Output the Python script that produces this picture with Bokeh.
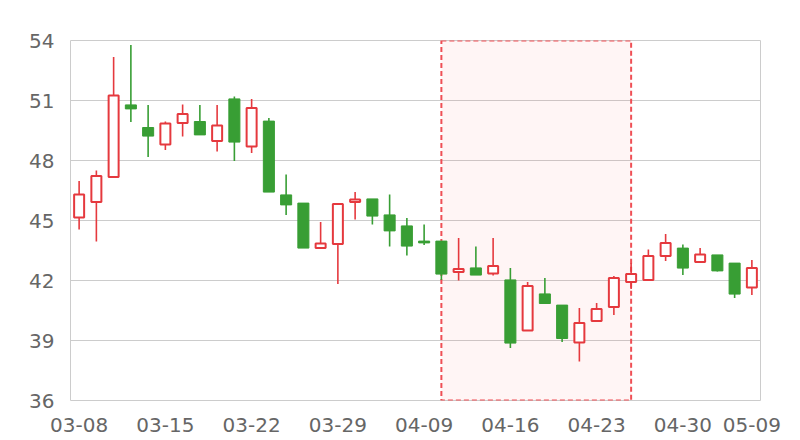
from bokeh.plotting import figure
from bokeh.models import FixedTicker
from bokeh.embed import file_html
from bokeh.resources import INLINE

dates = ["03-08", "03-11", "03-12", "03-13", "03-14", "03-15", "03-18", "03-19",
         "03-20", "03-21", "03-22", "03-25", "03-26", "03-27", "03-28", "03-29",
         "04-01", "04-02", "04-03", "04-08", "04-09", "04-10", "04-11", "04-12",
         "04-15", "04-16", "04-17", "04-18", "04-19", "04-22", "04-23", "04-24",
         "04-25", "04-26", "04-29", "04-30", "05-06", "05-07", "05-08", "05-09"]
open_ = [45.15, 45.92, 47.17, 50.78, 49.65, 48.80, 49.88, 49.95, 48.98, 51.08,
         48.70, 49.97, 46.28, 45.87, 43.62, 43.83, 45.92, 46.08, 45.28, 44.73,
         43.97, 43.97, 42.43, 42.63, 42.35, 42.03, 39.50, 41.33, 40.77, 38.90,
         39.97, 40.68, 41.92, 42.02, 43.22, 43.62, 42.93, 43.28, 42.87, 41.65]
close = [46.30, 47.22, 51.25, 50.58, 49.22, 49.85, 50.32, 49.28, 49.75, 48.92,
         50.62, 46.42, 45.78, 43.62, 43.85, 45.82, 46.05, 45.22, 44.48, 43.72,
         43.88, 42.32, 42.58, 42.27, 42.72, 38.87, 41.72, 40.85, 39.10, 39.87,
         40.57, 42.12, 42.32, 43.23, 43.87, 42.62, 43.30, 42.48, 41.32, 42.63]
low = [44.55, 43.95, 47.15, 49.92, 48.17, 48.53, 49.20, 49.28, 48.45, 47.98,
       48.38, 46.42, 45.28, 43.62, 43.62, 41.83, 45.05, 44.80, 43.70, 43.25,
       43.78, 42.03, 42.00, 42.27, 42.25, 38.63, 39.50, 40.85, 38.93, 37.95,
       39.93, 40.28, 41.58, 42.02, 42.97, 42.28, 42.88, 42.45, 41.13, 41.28]
high = [46.97, 47.50, 53.17, 53.78, 50.78, 49.95, 50.80, 50.78, 50.78, 51.20,
        51.08, 50.13, 47.30, 45.87, 44.92, 45.88, 46.42, 46.08, 46.30, 45.13,
        44.80, 43.97, 44.12, 43.70, 44.13, 42.62, 41.92, 42.12, 40.77, 40.62,
        40.88, 42.22, 42.88, 43.55, 44.33, 43.80, 43.62, 43.28, 42.87, 43.02]
y_ticks = [36, 39, 42, 45, 48, 51, 54]
label_idx = [0, 5, 10, 15, 20, 25, 30, 35, 39]
area_start, area_end = "04-10", "04-25"

UP = "#e5393e"
DOWN = "#389e34"

n = len(dates)
xs = list(range(n))
up_i = [i for i in xs if close[i] >= open_[i]]
dn_i = [i for i in xs if close[i] < open_[i]]

p = figure(width=800, height=440, x_range=(-0.5, n - 0.5), y_range=(y_ticks[0], y_ticks[-1]),
           output_backend="svg", toolbar_location=None,
           min_border_left=70, min_border_right=40, min_border_top=40, min_border_bottom=40)
p.background_fill_color = "white"
p.border_fill_color = "white"
p.outline_line_color = "#cccccc"
p.outline_line_width = 1

# highlighted area
p.quad(left=[dates.index(area_start)], right=[dates.index(area_end)],
       bottom=[y_ticks[0]], top=[y_ticks[-1]],
       fill_color="red", fill_alpha=0.04, line_color="#ef4f55",
       line_width=2, line_dash="5 3")

# wicks
p.segment(x0=[xs[i] for i in up_i], y0=[low[i] for i in up_i],
          x1=[xs[i] for i in up_i], y1=[high[i] for i in up_i],
          line_color=UP, line_width=1.6)
p.segment(x0=[xs[i] for i in dn_i], y0=[low[i] for i in dn_i],
          x1=[xs[i] for i in dn_i], y1=[high[i] for i in dn_i],
          line_color=DOWN, line_width=1.6)

# bodies
p.vbar(x=[xs[i] for i in up_i], width=0.58,
       bottom=[open_[i] for i in up_i], top=[close[i] for i in up_i],
       fill_color="white", line_color=UP, line_width=2)
p.vbar(x=[xs[i] for i in dn_i], width=0.64,
       bottom=[close[i] for i in dn_i], top=[open_[i] for i in dn_i],
       fill_color=DOWN, line_color=DOWN, line_width=1)

p.xgrid.grid_line_color = None
p.ygrid.grid_line_color = "#cccccc"
p.ygrid.ticker = FixedTicker(ticks=y_ticks)

p.yaxis.ticker = FixedTicker(ticks=y_ticks)
p.xaxis.ticker = FixedTicker(ticks=label_idx)
p.xaxis.major_label_overrides = {i: dates[i] for i in label_idx}

for ax in (p.xaxis[0], p.yaxis[0]):
    ax.axis_line_color = None
    ax.major_tick_line_color = None
    ax.minor_tick_line_color = None
    ax.major_tick_out = 0
    ax.major_tick_in = 0
    ax.minor_tick_out = 0
    ax.minor_tick_in = 0
    ax.major_label_text_font = "DejaVu Sans"
    ax.major_label_text_font_size = "20px"
    ax.major_label_text_color = "#666666"
p.yaxis.major_label_standoff = 16
p.xaxis.major_label_standoff = 17

open("out.html", "w").write(file_html(p, INLINE))
